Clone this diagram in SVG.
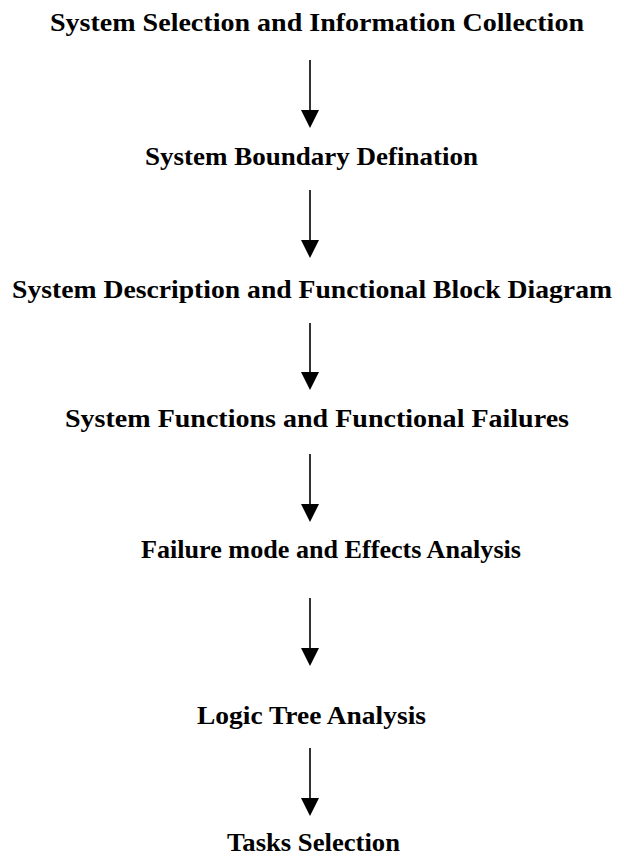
<svg xmlns="http://www.w3.org/2000/svg" width="624" height="857" viewBox="0 0 624 857">
<style>
.t{font-family:"Liberation Serif","Times New Roman",serif;font-weight:bold;font-size:25px;fill:#000;text-anchor:middle}
.c line{stroke:#333;stroke-width:2}
</style>
<defs>
<marker id="ah" markerWidth="10" markerHeight="9" refX="0" refY="4.5" orient="auto" markerUnits="strokeWidth">
<path d="M0,0 L9,4.5 L0,9 Z" fill="#000"/>
</marker>
</defs>
<rect width="624" height="857" fill="#fff"/>
<g id="n1"><text class="t" x="317" y="31" textLength="534" lengthAdjust="spacingAndGlyphs">System Selection and Information Collection</text></g>
<g id="n2"><text class="t" x="311.5" y="165" textLength="333" lengthAdjust="spacingAndGlyphs">System Boundary Defination</text></g>
<g id="n3"><text class="t" x="312" y="298" textLength="600" lengthAdjust="spacingAndGlyphs">System Description and Functional Block Diagram</text></g>
<g id="n4"><text class="t" x="317" y="427" textLength="504" lengthAdjust="spacingAndGlyphs">System Functions and Functional Failures</text></g>
<g id="n5"><text class="t" x="331" y="558" textLength="380" lengthAdjust="spacingAndGlyphs">Failure mode and Effects Analysis</text></g>
<g id="n6"><text class="t" x="311.5" y="724" textLength="229" lengthAdjust="spacingAndGlyphs">Logic Tree Analysis</text></g>
<g id="n7"><text class="t" x="313.5" y="851" textLength="173" lengthAdjust="spacingAndGlyphs">Tasks Selection</text></g>
<g id="connectors" class="c">
<line x1="310" y1="60" x2="310" y2="110" marker-end="url(#ah)"/>
<line x1="310" y1="190" x2="310" y2="240" marker-end="url(#ah)"/>
<line x1="310" y1="323" x2="310" y2="372" marker-end="url(#ah)"/>
<line x1="310" y1="454" x2="310" y2="504" marker-end="url(#ah)"/>
<line x1="310" y1="598" x2="310" y2="648" marker-end="url(#ah)"/>
<line x1="310" y1="748" x2="310" y2="798" marker-end="url(#ah)"/>
</g>
</svg>
